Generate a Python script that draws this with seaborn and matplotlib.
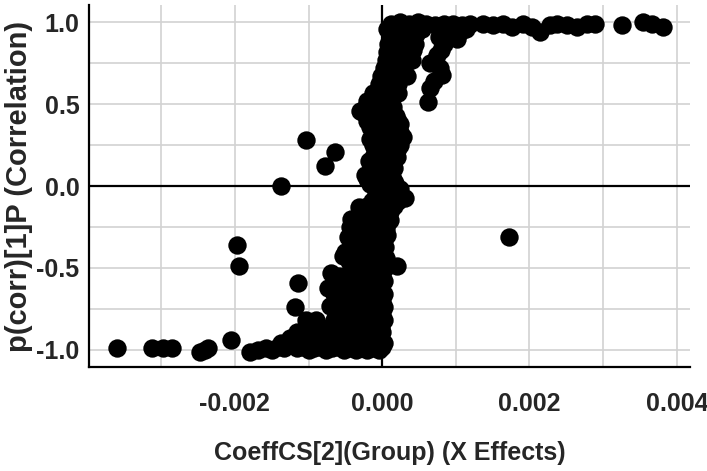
import numpy as np
import pandas as pd
import matplotlib
matplotlib.use("Agg")
import matplotlib.pyplot as plt
import seaborn as sns
from matplotlib.ticker import MultipleLocator, FormatStrFormatter

# coeficientes (en unidades de 1e-3) y p(corr)
# fila inferior, p(corr) ~ -1
x_bajo = [-3.60, -3.12, -2.97, -2.85, -2.47, -2.40, -2.36, -2.05,
          -1.79, -1.68, -1.58, -1.50, -1.42, -1.33, -1.25, -1.16, -1.08, -1.00,
          -0.92, -0.84, -0.76, -0.68, -0.60, -0.52, -0.44, -0.36, -0.28, -0.20,
          -0.12, -0.05, 0.00]
y_bajo = [-0.99, -0.99, -0.99, -0.99, -1.01, -1.00, -0.99, -0.94,
          -1.01, -1.00, -0.99, -1.00, -0.98, -0.99, -0.97, -0.99, -0.98, -1.00,
          -0.99, -0.98, -1.00, -0.99, -0.98, -1.00, -0.99, -1.00, -0.99, -1.00,
          -0.99, -1.00, -0.98]

# nube central (curva en S)
x_nube = [-1.25, -1.12, -1.00, -0.88, -0.76, -0.64, -0.52, -0.40, -0.28, -0.16, -0.05,
          -1.04, -0.85, -0.72, -0.60, -0.48, -0.36, -0.24, -0.12, -0.02,
          -0.45, -0.34, -0.22, -0.10, 0.00,
          -0.60, -0.48, -0.36, -0.24, -0.12, 0.00,
          -0.74, -0.62, -0.50, -0.38, -0.26, -0.14, -0.02,
          -0.70, -0.58, -0.46, -0.34, -0.22, -0.10, 0.00,
          -0.45, -0.33, -0.21, -0.09, 0.01, 0.20,
          -0.50, -0.38, -0.26, -0.14, -0.02,
          -0.42, -0.30, -0.18, -0.06, 0.03,
          -0.44, -0.32, -0.20, -0.08, 0.05,
          -0.42, -0.30, -0.18, -0.06, 0.06, 0.10,
          -0.32, -0.20, -0.08, 0.04, 0.16,
          -0.05, 0.07, 0.18, 0.31,
          -0.16, -0.04, 0.08, 0.17,
          -0.24, -0.12, 0.00, 0.12,
          -0.18, -0.06, 0.06, 0.15,
          -0.10, 0.02, 0.14, 0.22,
          -0.16, -0.04, 0.08, 0.22, 0.28,
          -0.17, -0.05, 0.07, 0.19, 0.24,
          -0.27, -0.15, -0.03, 0.09, 0.19,
          -0.20, -0.08, 0.04, 0.10, 0.62,
          -0.04, 0.08, 0.22, 0.70, 0.65,
          0.03, 0.15, 0.30, 0.65, 0.78, 0.81,
          0.07, 0.19, 0.32, 0.42, 0.80, 0.75,
          0.10, 0.22, 0.34, 0.46, 0.77, 0.90, 1.02, 1.06]
y_nube = [-0.93, -0.92, -0.94, -0.92, -0.93, -0.92, -0.94, -0.93, -0.92, -0.93, -0.92,
          -0.82, -0.86, -0.87, -0.85, -0.86, -0.85, -0.86, -0.85, -0.86,
          -0.78, -0.77, -0.78, -0.77, -0.78,
          -0.68, -0.70, -0.70, -0.69, -0.70, -0.70,
          -0.62, -0.63, -0.62, -0.61, -0.62, -0.62, -0.62,
          -0.53, -0.55, -0.54, -0.54, -0.55, -0.54, -0.54,
          -0.46, -0.47, -0.47, -0.46, -0.47, -0.49,
          -0.40, -0.40, -0.41, -0.40, -0.40,
          -0.33, -0.34, -0.33, -0.33, -0.33,
          -0.25, -0.26, -0.26, -0.25, -0.26,
          -0.20, -0.19, -0.19, -0.18, -0.19, -0.21,
          -0.13, -0.12, -0.12, -0.11, -0.12,
          -0.06, -0.05, -0.06, -0.07,
          0.01, 0.02, 0.01, 0.02,
          0.07, 0.08, 0.08, 0.07,
          0.15, 0.14, 0.15, 0.15,
          0.22, 0.22, 0.21, 0.23,
          0.29, 0.29, 0.28, 0.29, 0.30,
          0.36, 0.36, 0.37, 0.36, 0.38,
          0.45, 0.44, 0.43, 0.44, 0.43,
          0.52, 0.51, 0.52, 0.53, 0.51,
          0.62, 0.63, 0.62, 0.64, 0.60,
          0.72, 0.73, 0.72, 0.75, 0.72, 0.68,
          0.82, 0.83, 0.81, 0.83, 0.83, 0.80,
          0.92, 0.93, 0.91, 0.93, 0.91, 0.93, 0.90, 0.94]

# puntos intermedios de la nube
x_relleno = [-1.38, -1.28, -1.18, -1.08, -0.98, -0.88, -0.78, -0.68, -0.58, -0.48,
             -0.38, -0.28, -0.18, -0.08, 0.02,
             -1.15, -0.95, -0.82, -0.70, -0.58, -0.46, -0.34, -0.22, -0.10, 0.00,
             -0.90, -0.66, -0.54, -0.42, -0.30, -0.18, -0.06, 0.02,
             -0.58, -0.46, -0.34, -0.22, -0.10, 0.02,
             -0.66, -0.54, -0.42, -0.30, -0.18, -0.06, 0.03,
             -0.64, -0.52, -0.40, -0.28, -0.16, -0.04, 0.03,
             -0.42, -0.30, -0.18, -0.06, 0.04,
             -0.44, -0.27, -0.15, -0.03, 0.05,
             -0.44, -0.32, -0.20, -0.08, 0.04,
             -0.36, -0.24, -0.12, 0.00, 0.06,
             -0.36, -0.24, -0.12, 0.00, 0.08,
             -0.26, -0.14, -0.02, 0.10,
             -0.14, -0.02, 0.10, 0.22,
             -0.10, 0.02, 0.14, 0.24,
             -0.20, -0.08, 0.04, 0.14,
             -0.14, -0.02, 0.10, 0.16,
             -0.12, 0.00, 0.12, 0.20,
             -0.12, 0.00, 0.12, 0.24,
             -0.12, 0.00, 0.12, 0.24,
             -0.20, -0.08, 0.04, 0.16, 0.22,
             -0.22, -0.10, 0.02, 0.14,
             -0.12, 0.00, 0.12, 0.22,
             -0.02, 0.10, 0.22, 0.34,
             0.05, 0.17, 0.29, 0.40,
             0.08, 0.20, 0.32, 0.44, 0.84,
             0.06, 0.18, 0.30, 0.42, 0.54, 0.80, 0.92, 1.04, 1.14]
y_relleno = [-0.96] * 15 + [-0.89] * 10 + [-0.82] * 8 + [-0.74] * 6 \
    + [-0.66] * 7 + [-0.58] * 7 + [-0.50] * 5 + [-0.44] * 5 + [-0.37] * 5 \
    + [-0.30] * 5 + [-0.22] * 5 + [-0.16] * 4 + [-0.09] * 4 + [-0.02] * 4 \
    + [0.04] * 4 + [0.11] * 4 + [0.18] * 4 + [0.25] * 4 + [0.33] * 4 \
    + [0.40] * 5 + [0.48] * 4 + [0.57] * 4 + [0.67] * 4 + [0.77] * 4 \
    + [0.87] * 5 + [0.96] * 9

# fila superior, p(corr) ~ 1
x_alto = [0.12, 0.24, 0.36, 0.48, 0.60, 0.72, 0.84, 0.96, 1.08, 1.19,
          1.37, 1.51, 1.64, 1.76, 1.91, 2.04, 2.14, 2.28, 2.37, 2.51, 2.65,
          2.78, 2.89, 3.26, 3.54, 3.66, 3.81]
y_alto = [0.99, 1.00, 0.99, 1.00, 0.99, 0.98, 0.99, 0.99, 0.98, 0.99,
          0.99, 0.98, 0.99, 0.97, 0.99, 0.97, 0.94, 0.98, 0.99, 0.98, 0.97,
          0.99, 0.99, 0.98, 1.00, 0.99, 0.97]

# puntos sueltos
x_sueltos = [-1.04, -0.77, -0.64, -1.38, -0.30, -1.97, -1.94,
             -1.14, -1.18, -0.71, -0.53, -0.47, 1.72]
y_sueltos = [0.28, 0.12, 0.21, 0.00, 0.46, -0.36, -0.49,
             -0.59, -0.74, -0.73, -0.43, -0.31, -0.31]

df = pd.DataFrame({
    "coef": np.array(x_bajo + x_nube + x_relleno + x_alto + x_sueltos) * 1e-3,
    "pcorr": y_bajo + y_nube + y_relleno + y_alto + y_sueltos,
})

sns.set_style("white")
plt.rcParams["font.family"] = ["Liberation Sans", "DejaVu Sans"]

fig = plt.figure(figsize=(7.07, 4.71), dpi=100)
ax = fig.add_axes([0.126, 0.221, 0.850, 0.768])

ax.grid(True, which="both", color="#d2d2d2", linewidth=1.2, zorder=0)
ax.axhline(0, color="black", linewidth=1.6, zorder=1)
ax.axvline(0, color="black", linewidth=1.6, zorder=1)

sns.scatterplot(data=df, x="coef", y="pcorr", ax=ax, color="black",
                s=175, linewidth=0, zorder=3)

ax.set_xlim(-0.00398, 0.00418)
ax.set_ylim(-1.104, 1.104)
ax.xaxis.set_major_locator(MultipleLocator(0.002))
ax.xaxis.set_minor_locator(MultipleLocator(0.001))
ax.yaxis.set_major_locator(MultipleLocator(0.5))
ax.yaxis.set_minor_locator(MultipleLocator(0.25))
ax.xaxis.set_major_formatter(FormatStrFormatter("%.3f"))
ax.yaxis.set_major_formatter(FormatStrFormatter("%.1f"))

for lado in ["top", "right"]:
    ax.spines[lado].set_visible(False)
for lado in ["left", "bottom"]:
    ax.spines[lado].set_color("black")
    ax.spines[lado].set_linewidth(1.6)

ax.tick_params(which="both", direction="inout", length=4, width=1.2, color="black")
ax.tick_params(axis="x", labelsize=18, pad=16)
ax.tick_params(axis="y", labelsize=18, pad=5)
for t in ax.get_xticklabels() + ax.get_yticklabels():
    t.set_fontweight("bold")

ax.set_xlabel("CoeffCS[2](Group) (X Effects)", fontsize=18, fontweight="bold", labelpad=18)
ax.set_ylabel("p(corr)[1]P (Correlation)", fontsize=21, fontweight="bold", labelpad=2)

fig.savefig("out.png", dpi=100, facecolor="white")
